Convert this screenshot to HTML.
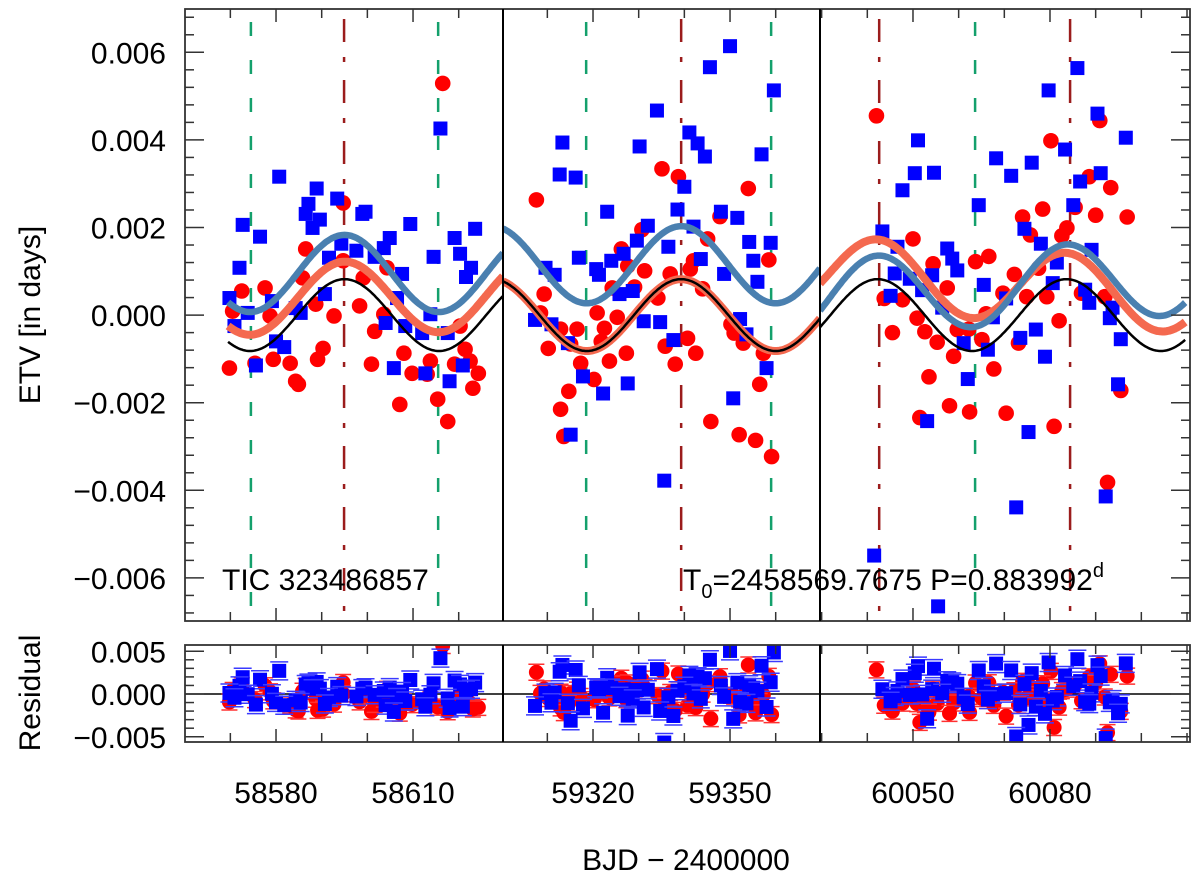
<!DOCTYPE html>
<html><head><meta charset="utf-8"><style>
html,body{margin:0;padding:0;background:#fff;}
svg{display:block;font-family:"Liberation Sans",Arial,sans-serif;}
</style></head><body>
<svg id="chart" width="1200" height="885" viewBox="0 0 1200 885" xmlns="http://www.w3.org/2000/svg">
<defs>
<clipPath id="cm1"><rect x="185" y="9" width="318" height="612"/></clipPath>
<clipPath id="cm2"><rect x="503" y="9" width="317" height="612"/></clipPath>
<clipPath id="cm3"><rect x="820" y="9" width="370" height="612"/></clipPath>
<clipPath id="cr"><rect x="185" y="645" width="1005" height="97"/></clipPath>
</defs>
<g id="main-layer"></g>
<g id="res-layer"></g>
<text x="222" y="590" font-size="30">TIC 323486857</text>
<text x="683" y="590" font-size="30">T<tspan font-size="20" dy="8">0</tspan><tspan dy="-8">=2458569.7675 P=0.883992</tspan><tspan font-size="20" dy="-13">d</tspan></text>
<text transform="translate(40,315) rotate(-90)" text-anchor="middle" font-size="30">ETV [in days]</text>
<text transform="translate(40,693) rotate(-90)" text-anchor="middle" font-size="30">Residual</text>
<text x="686" y="870" text-anchor="middle" font-size="30">BJD − 2400000</text>
</svg>
<script>
// ---- data ----
const redDays = [58569.8,58570.5,58572.5,58577.6,58578.7,58575.4,58579.4,58583.1,58584.3,58584.9,58586.5,58585.8,58588.7,58590.3,58589.1,58592.7,58594.7,58594.7,58598.3,58599.1,58600.9,58601.6,58603.6,58604.3,58608.0,58609.8,58613.1,58613.8,58615.4,58607.1,58617.6,58619.1,58621.4,58622.5,58624.3,58623.1,58620.3,58616.5,
59307.6,59335.1,59338.7,59354.0,59347.8,59330.7,59345.1,59326.2,59358.5,59342.0,59327.6,59331.3,59336.9,59341.3,59329.1,59324.2,59344.0,59334.2,59309.3,59308.5,59320.9,59325.3,59322.5,59316.5,59312.9,59350.2,59350.9,59352.9,59340.7,59310.2,59315.1,59321.8,59335.8,59342.5,59327.3,59323.6,59317.3,59338.0,59357.3,59320.2,59314.7,59356.5,59312.9,59313.6,59345.8,59352.0,59355.6,59359.1,
60042.0,60080.2,60090.9,60088.6,60093.3,60085.5,60078.4,60074.0,60090.0,60096.9,60075.7,60083.7,60082.6,60050.0,60063.7,60066.6,60054.4,60072.2,60077.5,60057.5,60069.7,60074.9,60079.3,60086.9,60092.0,60043.7,60047.7,60066.0,60050.9,60082.0,60045.5,60052.6,60055.3,60059.7,60062.2,60065.1,60073.1,60058.9,60067.7,60053.5,60058.0,60062.4,60070.4,60051.5,60080.9,60095.5,60092.6];
const redEtv = [-0.00121,0.00009,0.00055,0.00062,-0.00002,-0.00110,-0.00101,-0.00110,-0.00151,-0.00158,0.00151,0.00085,0.00025,-0.00076,-0.00101,-0.00002,0.00256,0.00124,0.00021,0.00085,-0.00112,-0.00037,0.00002,0.00108,-0.00087,-0.00133,-0.00135,-0.00105,-0.00192,-0.00204,-0.00243,-0.00112,-0.00078,-0.00105,-0.00133,-0.00167,-0.00025,0.00529,
0.00263,0.00334,0.00316,0.00289,0.00225,0.00195,0.00174,0.00151,0.00126,0.00124,0.00112,0.00101,0.00094,0.00105,0.00064,0.00062,0.00060,0.00039,0.00048,0.00005,0.00005,-0.00005,-0.00030,-0.00032,-0.00032,-0.00021,-0.00041,-0.00064,-0.00053,-0.00076,-0.00066,-0.00060,-0.00071,-0.00087,-0.00087,-0.00105,-0.00110,-0.00112,-0.00087,-0.00147,-0.00174,-0.00158,-0.00215,-0.00277,-0.00243,-0.00273,-0.00286,-0.00323,
0.00455,0.00398,0.00444,0.00316,0.00291,0.00246,0.00242,0.00224,0.00228,0.00224,0.00183,0.00199,0.00181,0.00174,0.00122,0.00134,0.00117,0.00093,0.00107,0.00062,0.00050,0.00042,0.00042,0.00050,0.00042,0.00038,0.00035,0.00003,-0.00007,-0.00013,-0.00040,-0.00038,-0.00062,-0.00033,-0.00032,-0.00056,-0.00064,-0.00094,-0.00123,-0.00141,-0.00207,-0.00221,-0.00224,-0.00234,-0.00254,-0.00172,-0.00382];
const blueDays = [58580.7,58588.9,58593.4,58587.1,58586.5,58589.6,58588.0,58598.9,58599.6,58572.7,58576.5,58609.4,58623.6,58619.1,58604.9,58603.6,58620.3,58622.7,58621.6,58614.5,58572.0,58591.6,58597.6,58601.6,58607.6,58594.3,58569.8,58573.8,58570.9,58579.1,58590.7,58584.3,58585.4,58606.5,58604.0,58608.3,58612.0,58613.8,58617.6,58580.0,58581.8,58575.6,58605.8,58612.7,58618.0,58620.9,58616.0,
59350.0,59345.6,59359.6,59334.0,59313.3,59330.2,59341.1,59342.9,59344.5,59356.9,59312.7,59316.2,59340.0,59323.1,59338.5,59348.0,59351.6,59332.0,59342.0,59329.6,59354.2,59358.9,59336.5,59316.9,59343.6,59355.1,59326.7,59324.0,59320.7,59321.3,59309.6,59311.6,59348.7,59356.0,59325.8,59328.7,59307.3,59310.9,59331.1,59334.7,59352.2,59353.6,59314.5,59337.6,59317.8,59327.6,59322.2,59358.0,59350.7,59315.1,59335.6,
60086.0,60079.7,60090.4,60096.6,60051.1,60083.3,60068.2,60076.0,60050.4,60054.6,60071.5,60091.1,60086.6,60047.7,60064.4,60085.1,60074.4,60043.3,60078.0,60057.5,60046.6,60058.6,60059.7,60046.0,60054.2,60089.1,60081.5,60049.3,60065.5,60080.6,60052.0,60045.1,60087.7,60070.4,60088.6,60093.7,60056.4,60067.5,60093.1,60061.1,60073.5,60076.9,60066.4,60095.5,60078.9,60062.0,60094.9,60053.1,60075.3,60072.6,60092.2,60041.5,60055.5];
const blueEtv = [0.00316,0.00289,0.00266,0.00254,0.00231,0.00218,0.00199,0.00231,0.00236,0.00206,0.00179,0.00208,0.00197,0.00176,0.00176,0.00153,0.00140,0.00108,0.00087,0.00133,0.00108,0.00131,0.00147,0.00133,0.00094,0.00163,0.00039,0.00005,-0.00025,0.00032,0.00048,0.00016,0.00005,0.00039,-0.00018,-0.00025,-0.00041,0.00002,-0.00041,-0.00060,-0.00073,-0.00115,-0.00121,-0.00133,-0.00151,-0.00115,0.00426,
0.00614,0.00566,0.00513,0.00467,0.00394,0.00385,0.00417,0.00392,0.00362,0.00367,0.00321,0.00314,0.00293,0.00236,0.00241,0.00236,0.00222,0.00204,0.00202,0.00170,0.00167,0.00165,0.00156,0.00131,0.00128,0.00124,0.00140,0.00124,0.00105,0.00092,0.00108,0.00092,0.00094,0.00076,0.00048,0.00055,-0.00011,-0.00021,-0.00014,-0.00016,-0.00009,-0.00044,-0.00064,-0.00057,-0.00140,-0.00156,-0.00179,-0.00121,-0.00190,-0.00273,-0.00378,
0.00564,0.00513,0.00460,0.00405,0.00399,0.00378,0.00358,0.00348,0.00324,0.00325,0.00318,0.00324,0.00305,0.00285,0.00251,0.00251,0.00197,0.00191,0.00163,0.00152,0.00156,0.00129,0.00102,0.00095,0.00091,0.00149,0.00120,0.00083,0.00069,0.00073,0.00057,0.00044,0.00058,0.00038,0.00028,0.00017,0.00017,-0.00005,-0.00007,-0.00064,-0.00052,-0.00033,-0.00079,-0.00055,-0.00095,-0.00146,-0.00158,-0.00242,-0.00267,-0.00439,-0.00414,-0.00549,-0.00665];
const minTimes = [58574.5,58615.5,59318.5,59359.0,60063.6];
const maxTimes = [58594.9,59339.3,60042.6,60084.4];
const xTickLabels = [58580,58610,59320,59350,60050,60080];
const yTickLabels = [0.006,0.004,0.002,0,-0.002,-0.004,-0.006];
const resTickLabels = [0.005,0,-0.005];
const curveStart = [58569.5,59300.29,60029.64];
const curveEnd = [58629.70,59369.70,60109.6];
const ampBlack = 0.00082, ampSteel = 0.00088, period = 41.35, tPeak = 58595.0;
const orangeOffset = [[0.00035,0.00045],[0.0,0.0],[0.0010,0.0004]];
const steelOffset = [[0.00095,0.00095],[0.00115,0.00115],[0.0004,0.0009]];

// ---- axes ----
const segs = [{d0:58560.07,d1:58629.70,p0:185},{d0:59300.29,d1:59369.70,p0:503},{d0:60029.64,d1:60110.65,p0:820}];
const PXD = 4.567;
function segOf(t){for(let i=0;i<3;i++){if(t>=segs[i].d0-5&&t<=segs[i].d1+5)return i;}return 0;}
function X(t){const s=segs[segOf(t)];return s.p0+(t-s.d0)*PXD;}
function Y(v){return 315.1-v*43800;}
function YR(v){return 694-v*8550;}
const NS="http://www.w3.org/2000/svg";
function mk(tag,attrs,parent){const e=document.createElementNS(NS,tag);for(const k in attrs)e.setAttribute(k,attrs[k]);parent.appendChild(e);return e;}
const main=document.getElementById('main-layer');
const res=document.getElementById('res-layer');
function model(t,amp,off){const i=segOf(t),s=segs[i];const f=(t-s.d0)/(s.d1-s.d0);return amp*Math.cos(2*Math.PI*(t-tPeak)/period)+off[i][0]+(off[i][1]-off[i][0])*f;}
const zeroOff=[[0,0],[0,0],[0,0]];

for(const t of minTimes){const ln=mk('line',{x1:X(t),x2:X(t),y1:22,y2:621,stroke:'#14a06c','stroke-width':2.5,'stroke-dasharray':'14 24'},main);

}
for(const t of maxTimes){const ln=mk('line',{x1:X(t),x2:X(t),y1:19,y2:621,stroke:'#9b1c1c','stroke-width':2.5,'stroke-dasharray':'23 15 5 18'},main);

}

redDays.forEach((t,i)=>{const s=segOf(t);const c=mk('circle',{cx:X(t),cy:Y(redEtv[i]),r:7.8,fill:'#ff0000'},main);c.setAttribute('clip-path','url(#cm'+(s+1)+')');

});
blueDays.forEach((t,i)=>{const s=segOf(t);const r=mk('rect',{x:X(t)-7,y:Y(blueEtv[i])-7,width:14,height:14,fill:'#0000ff'},main);r.setAttribute('clip-path','url(#cm'+(s+1)+')');

});

function curve(amp,off,color,w,name){for(let i=0;i<3;i++){const a=curveStart[i],b=curveEnd[i];let d='';for(let t=a;t<=b+0.3;t+=0.3){const tt=Math.min(t,b);d+=(d?'L':'M')+X(tt).toFixed(1)+','+Y(model(tt,amp,off)).toFixed(1);}
const p=mk('path',{d:d,fill:'none',stroke:color,'stroke-width':w,'clip-path':'url(#cm'+(i+1)+')'},main);

}}
curve(ampBlack,orangeOffset,'#f4694f',8,'primary-model-curve');
curve(ampSteel,steelOffset,'#4a80b0',6.5,'secondary-model-curve');
curve(ampBlack,zeroOff,'#000000',2.5,'ltte-curve');

// residuals
mk('line',{x1:185,x2:1190,y1:694,y2:694,stroke:'#000','stroke-width':1.5},res);
const rg=mk('g',{'clip-path':'url(#cr)'},res);
redDays.forEach((t,i)=>{const x=X(t),y=YR(redEtv[i]-model(t,ampBlack,orangeOffset));
const c=mk('circle',{cx:x,cy:y,r:7.5,fill:'#ff0000'},rg);


mk('line',{x1:x-8,x2:x+8,y1:y-8,y2:y-8,stroke:'#ff3030','stroke-width':1.5},rg);mk('line',{x1:x-8,x2:x+8,y1:y+8,y2:y+8,stroke:'#ff3030','stroke-width':1.5},rg);});
blueDays.forEach((t,i)=>{const x=X(t),y=YR(blueEtv[i]-model(t,ampSteel,steelOffset));
mk('line',{x1:x-9,x2:x+9,y1:y-9,y2:y-9,stroke:'#3a3aff','stroke-width':1.5},rg);mk('line',{x1:x-9,x2:x+9,y1:y+9,y2:y+9,stroke:'#3a3aff','stroke-width':1.5},rg);
const r=mk('rect',{x:x-7,y:y-7,width:14,height:14,fill:'#0000ff'},rg);

});

function frame(y0,y1,layer,name){const f=mk('rect',{x:185,y:y0,width:1005,height:y1-y0,fill:'none',stroke:'#333','stroke-width':1.8},layer);


for(const xs of [503,820])mk('line',{x1:xs,x2:xs,y1:y0,y2:y1,stroke:'#000','stroke-width':2},layer);
for(let i=0;i<3;i++){const s=segs[i];for(let d=Math.ceil(s.d0/10)*10;d<=s.d1;d+=10){const x=X(d);const L=xTickLabels.indexOf(d)>=0?13:9;
mk('line',{x1:x,x2:x,y1:y0,y2:y0+L,stroke:'#333','stroke-width':1.5},layer);mk('line',{x1:x,x2:x,y1:y1,y2:y1-L,stroke:'#333','stroke-width':1.5},layer);}}}
frame(9,621,main,'etv-plot-frame');
frame(645,742,res,'residual-plot-frame');
for(let k=-17;k<=17;k++){const v=k*0.0004,y=Y(v);if(y<10||y>620)continue;const maj=(k%5===0);const L=maj?19:9;
mk('line',{x1:185,x2:185+L,y1:y,y2:y,stroke:'#333','stroke-width':1.5},main);mk('line',{x1:1190,x2:1190-L,y1:y,y2:y,stroke:'#333','stroke-width':1.5},main);}
for(let k=-5;k<=5;k++){const y=YR(k*0.001);const maj=(k%5===0);const L=maj?19:9;
mk('line',{x1:185,x2:185+L,y1:y,y2:y,stroke:'#333','stroke-width':1.5},res);mk('line',{x1:1190,x2:1190-L,y1:y,y2:y,stroke:'#333','stroke-width':1.5},res);}
const svg=document.getElementById('chart');
function fmt(v,n){return (v<0?'−':'')+Math.abs(v).toFixed(n);}
yTickLabels.forEach(v=>{const t=mk('text',{x:166,y:Y(v)+11,'text-anchor':'end','font-size':30},svg);t.textContent=fmt(v,3);

});
resTickLabels.forEach(v=>{const t=mk('text',{x:166,y:YR(v)+11,'text-anchor':'end','font-size':30},svg);t.textContent=fmt(v,3);

});
xTickLabels.forEach(v=>{const t=mk('text',{x:X(v),y:803,'text-anchor':'middle','font-size':30},svg);t.textContent=String(v);

});
</script>
</body></html>
